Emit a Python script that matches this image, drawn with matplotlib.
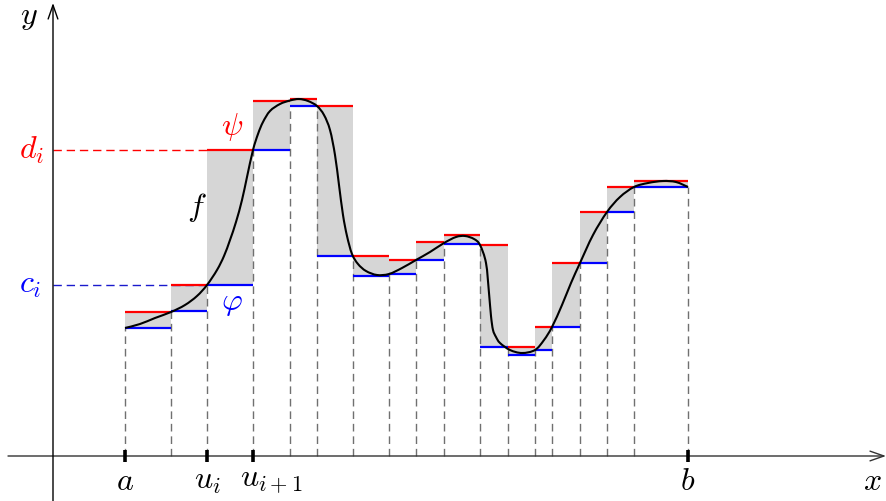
import numpy as np
import matplotlib
matplotlib.use("Agg")
import matplotlib.pyplot as plt
from matplotlib.path import Path
from matplotlib.patches import PathPatch

plt.rcParams['mathtext.fontset'] = 'cm'

# partition points u_0 = a, ..., u_n = b
partition = [7.2, 11.8, 15.4, 20.0, 23.7, 26.4, 30.0, 33.6, 36.3, 39.1,
             42.7, 45.5, 48.2, 49.9, 52.7, 55.4, 58.1, 63.5]
# upper step function psi (sup on each interval)
upper = [14.4, 17.1, 30.6, 35.5, 35.7, 35.0, 20.0, 19.6, 21.4, 22.1,
         21.1, 10.9, 12.9, 19.3, 24.4, 26.9, 27.5]
# lower step function phi (inf on each interval)
lower = [12.8, 14.5, 17.1, 30.6, 35.0, 20.0, 18.0, 18.2, 19.6, 21.2,
         10.9, 10.1, 10.6, 12.9, 19.3, 24.4, 26.9]

# the function f
f_x = [7.2, 8.7, 10.2, 11.8, 13.2, 14.4, 15.4, 16.4, 17.1, 17.7, 18.3, 18.9,
       19.4, 20.0, 20.5, 21.0, 21.7, 22.7, 23.7, 24.6, 25.5, 26.4, 27.1, 27.7,
       28.2, 28.6, 29.0, 29.4, 29.9, 30.5, 31.3, 32.4, 33.6, 34.9, 36.3, 37.7,
       39.1, 40.3, 41.2, 42.1, 42.7, 43.3, 43.6, 43.8, 44.0, 44.3, 44.7, 45.7,
       46.9, 48.2, 49.1, 49.9, 50.9, 51.8, 52.7, 54.0, 55.4, 56.7, 58.1, 59.5,
       61.0, 62.3, 63.5]
f_y = [12.8, 13.2, 13.8, 14.4, 15.1, 16.0, 17.1, 18.6, 20.0, 21.6, 23.4, 25.6,
       27.9, 30.6, 32.2, 33.4, 34.5, 35.2, 35.55, 35.7, 35.5, 35.0, 34.1, 32.6,
       30.1, 27.1, 24.1, 22.0, 20.2, 19.2, 18.5, 18.1, 18.2, 18.8, 19.6, 20.4,
       21.3, 21.9, 22.0, 21.7, 21.1, 19.3, 16.3, 14.0, 12.6, 11.9, 11.3, 10.6,
       10.3, 10.6, 11.6, 12.9, 15.1, 17.3, 19.3, 22.1, 24.4, 25.9, 26.9, 27.3,
       27.5, 27.4, 26.9]

# labelled partition points
tick_idx = [0, 2, 3, 17]
tick_labels = [r'$a$', r'$u_i$', r'$u_{i+1}$', r'$b$']
sel = 2  # interval [u_i, u_{i+1}]

fig = plt.figure(figsize=(8.86, 5.01), dpi=100)
ax = fig.add_axes([0, 0, 1, 1])
ax.set_xlim(-5.3, 83.3)
ax.set_ylim(-4.5, 45.6)
ax.axis('off')

fs = 23
n = len(upper)
for i in range(n):
    x0, x1 = partition[i], partition[i + 1]
    ax.fill_between([x0, x1], [lower[i]] * 2, [upper[i]] * 2,
                    color='#d6d6d6', lw=0, zorder=1)

# dashed verticals
for k, xk in enumerate(partition):
    vals = []
    if k > 0:
        vals.append(lower[k - 1])
    if k < n:
        vals.append(lower[k])
    ax.plot([xk, xk], [0, max(vals)], color='#707070', lw=1.0,
            dashes=(5.5, 3.5), zorder=2)

for i in range(n):
    x0, x1 = partition[i], partition[i + 1]
    ax.plot([x0, x1], [lower[i]] * 2, color='blue', lw=1.6,
            solid_capstyle='butt', zorder=3)
    ax.plot([x0, x1], [upper[i]] * 2, color='red', lw=1.6,
            solid_capstyle='butt', zorder=3)

# smooth curve through the read points (cubic Bezier, like TikZ "smooth")
P = np.column_stack([f_x, f_y])
verts = [tuple(P[0])]
codes = [Path.MOVETO]
t = 0.5 / 3.0
for i in range(len(P) - 1):
    p0 = P[i - 1] if i > 0 else P[i]
    p1, p2 = P[i], P[i + 1]
    p3 = P[i + 2] if i + 2 < len(P) else P[i + 1]
    c1 = p1 + (p2 - p0) * t
    c2 = p2 - (p3 - p1) * t
    verts += [tuple(c1), tuple(c2), tuple(p2)]
    codes += [Path.CURVE4] * 3
ax.add_patch(PathPatch(Path(verts, codes), fill=False, edgecolor='black',
                       lw=1.5, zorder=5))

# axes with arrows
ax.annotate('', xy=(83.3, 0), xytext=(-4.5, 0),
            arrowprops=dict(arrowstyle='->,head_length=1.0,head_width=0.35',
                            lw=1.0, color='#333333', shrinkA=0, shrinkB=0),
            zorder=4)
ax.annotate('', xy=(0, 45.3), xytext=(0, -4.5),
            arrowprops=dict(arrowstyle='->,head_length=1.0,head_width=0.35',
                            lw=1.0, color='black', shrinkA=0, shrinkB=0),
            zorder=4)

# ticks at a, u_i, u_{i+1}, b
for k in tick_idx:
    ax.plot([partition[k]] * 2, [-0.6, 0.6], color='black', lw=2.6,
            solid_capstyle='butt', zorder=6)

ax.text(partition[0], -2.5, tick_labels[0], fontsize=fs, ha='center', va='center')
ax.text(partition[2], -2.5, tick_labels[1], fontsize=fs, ha='center', va='center')
ax.text(partition[3] - 1.3, -2.5, tick_labels[2], fontsize=fs, ha='left', va='center')
ax.text(partition[17], -2.5, tick_labels[3], fontsize=fs, ha='center', va='center')
ax.text(81.9, -2.6, r'$x$', fontsize=fs, ha='center', va='center')
ax.text(-2.4, 44.0, r'$y$', fontsize=fs, ha='center', va='center')

# d_i and c_i
ax.plot([0, partition[sel]], [upper[sel]] * 2, color='red', lw=1.0,
        dashes=(6, 3.5), zorder=2)
ax.plot([0, partition[sel]], [lower[sel]] * 2, color='#1a1acc', lw=1.0,
        dashes=(6, 3.5), zorder=2)
ax.text(-2.1, upper[sel], r'$d_i$', fontsize=fs, color='red', ha='center', va='center')
ax.text(-2.3, lower[sel], r'$c_i$', fontsize=fs, color='blue', ha='center', va='center')

ax.text(17.9, 32.9, r'$\psi$', fontsize=fs, color='red', ha='center', va='center')
ax.text(17.9, 15.3, r'$\varphi$', fontsize=fs, color='blue', ha='center', va='center')
ax.text(14.4, 24.9, r'$f$', fontsize=fs, color='black', ha='center', va='center')

fig.savefig('out.png', dpi=100)
